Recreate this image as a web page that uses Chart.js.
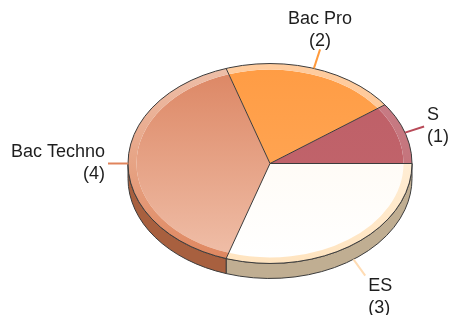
<!DOCTYPE html>
<html lang="fr">
<head>
  <meta charset="UTF-8" />
  <title>Bac</title>
  <script src="https://cdn.jsdelivr.net/npm/chart.js"></script>
  <style>
    body { margin: 0; background: #fff; }
    .chart-wrapper { width: 451px; height: 315px; }
  </style>
</head>
<body>
  <div class="chart-wrapper"><canvas id="pie"></canvas></div>

  <script>
    // slices, clockwise from 3 o'clock
    const labels = ["ES", "Bac Techno", "Bac Pro", "S"];
    const values = [3, 4, 2, 1];

    const faceTop = ["#fff8ee", "#dc8562", "#ff9c44", "#be5f67"];
    const faceBottom = ["#ffffff", "#f0c0aa", "#ffab5e", "#c2666d"];
    const rimTop = ["#fff6e8", "#eec0aa", "#ffcc9e", "#c98089"];
    const rimBottom = ["#ffe4c0", "#df865e", "#ffc08c", "#c0686f"];
    const sideColors = ["#c0ae92", "#a8603f", "#c08050", "#a04850"];
    const lineColors = ["#ffdcb4", "#e0845c", "#ff9a3c", "#b84a58"];

    const TILT = 0.704;   // ry / rx
    const CY = 163.5;     // screen centre of the top face
    const DEPTH = 15;

    function grad(c, top, bottom) {
      const chart = c.chart;
      const area = chart.chartArea;
      if (!area) return top[c.dataIndex];
      const g = chart.ctx.createLinearGradient(0, area.top, 0, area.bottom);
      g.addColorStop(0, top[c.dataIndex]);
      g.addColorStop(1, bottom[c.dataIndex]);
      return g;
    }

    const pie3d = {
      id: "pie3d",
      beforeDatasetsDraw(chart) {
        const ctx = chart.ctx;
        const arcs = chart.getDatasetMeta(0).data;
        const cx = arcs[0].x, R = arcs[0].outerRadius, ry = R * TILT;

        // front side walls
        ctx.save();
        ctx.lineWidth = 1;
        ctx.strokeStyle = "#3c3c3c";
        arcs.forEach((arc, i) => {
          const s = Math.max(arc.startAngle, 0);
          const e = Math.min(arc.endAngle, Math.PI);
          if (e <= s) return;
          ctx.beginPath();
          ctx.ellipse(cx, CY, R, ry, 0, s, e);
          ctx.ellipse(cx, CY + DEPTH, R, ry, 0, e, s, true);
          ctx.closePath();
          ctx.fillStyle = sideColors[i];
          ctx.fill();
          ctx.stroke();
        });
        ctx.restore();

        // squash the pie into an ellipse
        ctx.save();
        ctx.translate(0, CY);
        ctx.scale(1, TILT);
        ctx.translate(0, -arcs[0].y);
      },
      afterDatasetsDraw(chart) {
        const ctx = chart.ctx;
        ctx.restore();
        const arcs = chart.getDatasetMeta(0).data;
        const cx = arcs[0].x, R = arcs[0].outerRadius, ry = R * TILT;

        ctx.save();
        ctx.lineWidth = 1;
        ctx.strokeStyle = "#3c3c3c";
        ctx.beginPath();
        ctx.ellipse(cx, CY, R, ry, 0, 0, Math.PI * 2);
        ctx.stroke();
        arcs.forEach((arc) => {
          ctx.beginPath();
          ctx.moveTo(cx, CY);
          ctx.lineTo(cx + R * Math.cos(arc.startAngle), CY + ry * Math.sin(arc.startAngle));
          ctx.stroke();
        });

        // labels with leader lines
        ctx.font = "18px 'Liberation Sans', Arial, sans-serif";
        ctx.textBaseline = "middle";
        arcs.forEach((arc, i) => {
          const mid = (arc.startAngle + arc.endAngle) / 2;
          const cos = Math.cos(mid), sin = Math.sin(mid);
          const px = cx + R * cos;
          const py = CY + ry * sin + (sin > 0.1 ? DEPTH : 0);
          const ex = px + 20 * cos, ey = py + 20 * sin;
          ctx.beginPath();
          ctx.moveTo(px, py);
          ctx.lineTo(ex, ey);
          ctx.strokeStyle = lineColors[i];
          ctx.lineWidth = 2;
          ctx.stroke();

          let tx = ex, y1;
          if (cos > 0.4) { ctx.textAlign = "left"; tx = ex + 3; }
          else if (cos < -0.4) { ctx.textAlign = "right"; tx = ex - 3; }
          else ctx.textAlign = "center";
          if (sin < -0.7) y1 = ey - 30;
          else if (sin > 0.7) y1 = ey + 10;
          else y1 = ey - 11;
          ctx.fillStyle = "#1e1e1e";
          ctx.fillText(labels[i], tx, y1);
          ctx.fillText("(" + values[i] + ")", tx, y1 + 22);
        });
        ctx.restore();
      }
    };

    new Chart(document.getElementById("pie"), {
      type: "pie",
      data: {
        labels: labels,
        datasets: [
          {
            data: values,
            weight: 0.06,
            borderWidth: 0,
            backgroundColor: (c) => grad(c, rimTop, rimBottom),
          },
          {
            data: values,
            weight: 0.94,
            borderWidth: 0,
            backgroundColor: (c) => grad(c, faceTop, faceBottom),
          },
        ],
      },
      options: {
        animation: false,
        responsive: true,
        maintainAspectRatio: false,
        rotation: 90,
        events: [],
        layout: { padding: { left: 128, right: 39, top: 15, bottom: 16 } },
        plugins: {
          legend: { display: false },
          tooltip: { enabled: false },
        },
      },
      plugins: [pie3d],
    });
  </script>
</body>
</html>
